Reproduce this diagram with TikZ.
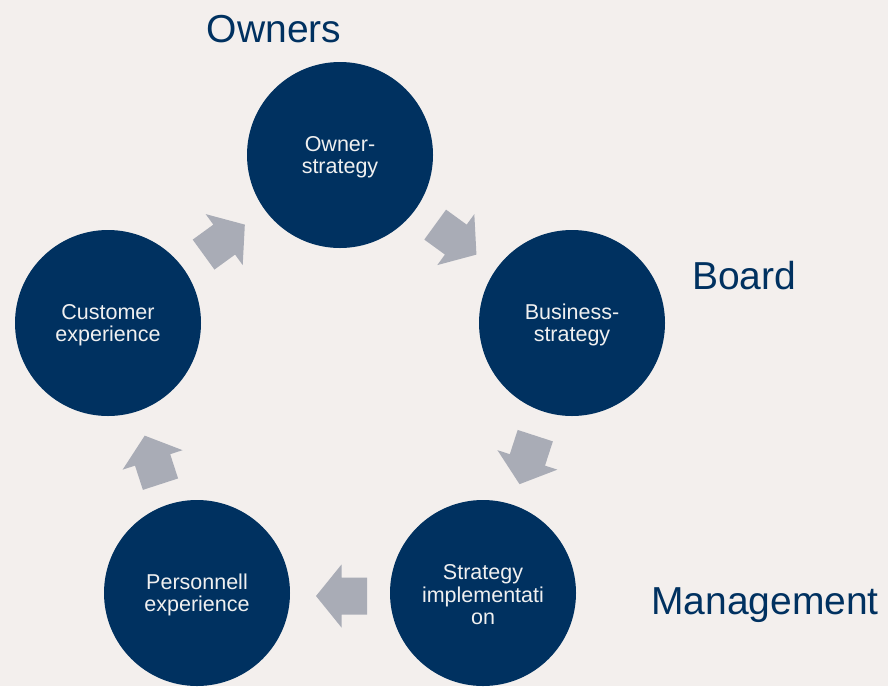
\documentclass[tikz,border=0pt]{standalone}
\usepackage{fontspec}
\setmainfont{Liberation Sans}
\definecolor{bgcol}{RGB}{243,239,237}
\definecolor{navy}{RGB}{0,49,96}
\definecolor{arrowgray}{RGB}{169,172,182}
\definecolor{circtext}{RGB}{240,240,240}
\begin{document}
\begin{tikzpicture}[x=1pt,y=-1pt,
  circ/.style={circle,fill=navy,minimum size=186pt,inner sep=0pt,text=circtext,align=center,
    font=\fontsize{21.5}{22.5}\selectfont},
  lbl/.style={text=navy,font=\fontsize{39}{41}\selectfont,inner sep=0pt},
  blockarrow/.style={fill=arrowgray}]
\useasboundingbox (0,0) rectangle (888,686);
\fill[bgcol] (0,0) rectangle (888,686);
\newcommand{\blockarr}[3]{%
  \fill[blockarrow,shift={(#1,#2)},rotate=#3]
    (-25.5,-18.5) -- (0,-18.5) -- (0,-31.5) -- (25.5,0) -- (0,31.5) -- (0,18.5) -- (-25.5,18.5) -- cycle;}
\node[circ] (own) at (340,155) {};
\node[circ] (bus) at (572,323) {};
\node[circ] (imp) at (483,593) {};
\node[circ] (per) at (197,593) {};
\node[circ] (cus) at (108,323) {};
\begin{scope}[every node/.style={text=circtext,align=center,inner sep=0pt,font=\fontsize{21.5}{22.5}\selectfont}]
\node (town) at ([yshift=-2pt]own.center) {Owner-\\strategy};
\node (tbus) at ([yshift=-2pt]bus.center) {Business-\\strategy};
\node (timp) at ([yshift=-2pt]imp.center) {Strategy\\implementati\\on};
\node (tper) at ([yshift=-2pt]per.center) {Personnell\\experience};
\node (tcus) at ([yshift=-2pt]cus.center) {Customer\\experience};
\end{scope}
\blockarr{455.8}{239.6}{-36}
\blockarr{527.4}{459.9}{-108}
\blockarr{341.5}{596}{180}
\blockarr{152.6}{459.9}{108}
\blockarr{224.2}{239.6}{36}
\node[lbl,anchor=base] (lown) at (274,42) {Owners};
\node[lbl,anchor=base west] (lboard) at (692,289) {Board};
\node[lbl,anchor=base west] (lman) at (651,614) {Management};
\end{tikzpicture}
\end{document}
